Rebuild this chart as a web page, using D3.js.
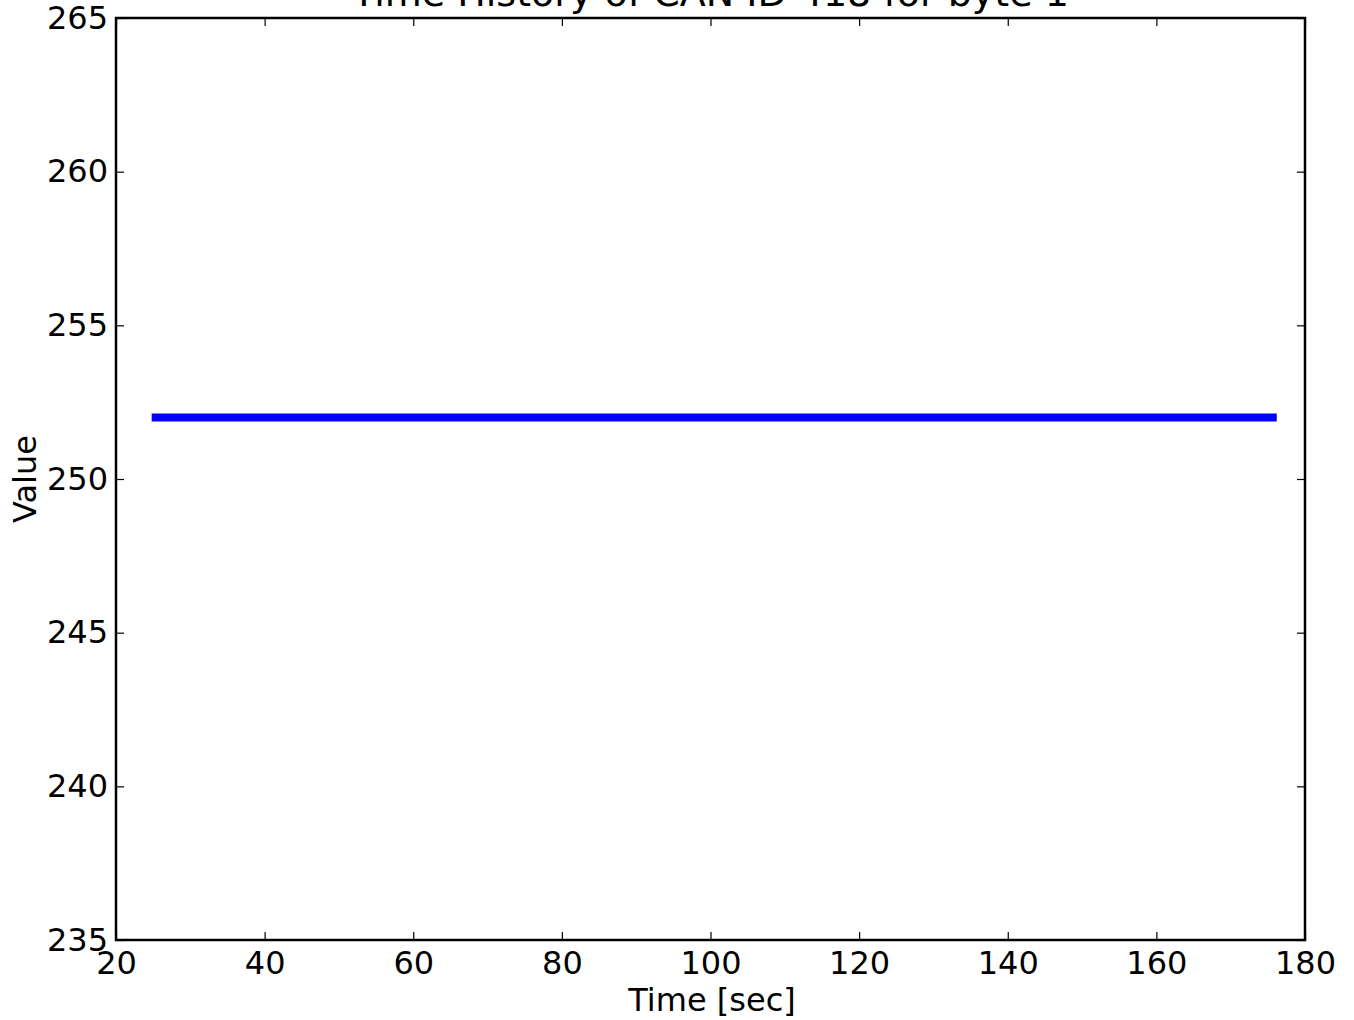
<!DOCTYPE html>
<html><head><meta charset="utf-8">
<script src="https://cdn.jsdelivr.net/npm/d3@7"></script>
<style>body{margin:0;background:#fff}svg{display:block}text{font-family:"DejaVu Sans",sans-serif;fill:#000}</style>
</head><body>
<svg id="c" width="1354" height="1020"></svg>
<script>
const titleText = "Time History of CAN ID 418 for byte 1";
const xLabel = "Time [sec]";
const yLabel = "Value";
const xTicks = [20, 40, 60, 80, 100, 120, 140, 160, 180];
const yTicks = [235, 240, 245, 250, 255, 260, 265];
const times = [24.8, 40, 60, 80, 100, 120, 140, 160, 176.2];
const values = [252, 252, 252, 252, 252, 252, 252, 252, 252];

const svg = d3.select("#c");
const L = 116, R = 1305, T = 18, B = 940;
const x = d3.scaleLinear().domain([20, 180]).range([L, R]);
const y = d3.scaleLinear().domain([235, 265]).range([B, T]);

svg.append("path")
  .datum(times.map((t, i) => [t, values[i]]))
  .attr("d", d3.line().x(d => x(d[0])).y(d => y(d[1])))
  .attr("fill", "none").attr("stroke", "#0000ff").attr("stroke-width", 8);

const tl = 8;
function axis(gen, tr) {
  const g = svg.append("g").attr("transform", tr).call(gen);
  g.select(".domain").remove();
  g.selectAll("line").attr("stroke", "#000").attr("stroke-width", 1.2);
  return g;
}
const gb = axis(d3.axisBottom(x).tickValues(xTicks).tickSize(-tl).tickPadding(11).tickFormat(d3.format("d")), `translate(0,${B})`);
gb.selectAll("text").style("font-size", "32px").attr("font-family", "DejaVu Sans").attr("dy", "0.71em");
axis(d3.axisTop(x).tickValues(xTicks).tickSize(-tl).tickFormat(""), `translate(0,${T})`);
const gl = axis(d3.axisLeft(y).tickValues(yTicks).tickSize(-tl).tickPadding(8).tickFormat(d3.format("d")), `translate(${L},0)`);
gl.selectAll("text").style("font-size", "32px").attr("font-family", "DejaVu Sans");
axis(d3.axisRight(y).tickValues(yTicks).tickSize(-tl).tickFormat(""), `translate(${R},0)`);

svg.append("rect").attr("x", L).attr("y", T).attr("width", R - L).attr("height", B - T)
  .attr("fill", "none").attr("stroke", "#000").attr("stroke-width", 2.5);

svg.append("text").attr("x", (L + R) / 2).attr("y", 6).attr("text-anchor", "middle")
  .style("font-size", "38px").text(titleText);
svg.append("text").attr("x", 712).attr("y", 1011).attr("text-anchor", "middle")
  .style("font-size", "32px").text(xLabel);
svg.append("text").attr("transform", `translate(36,${(T + B) / 2}) rotate(-90)`).attr("text-anchor", "middle")
  .style("font-size", "32px").text(yLabel);
</script>
</body></html>
